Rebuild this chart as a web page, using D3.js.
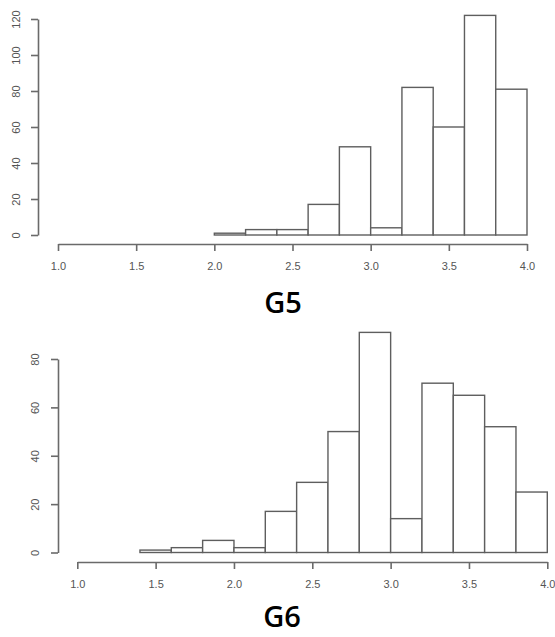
<!DOCTYPE html>
<html>
<head>
<meta charset="utf-8">
<script src="https://cdn.jsdelivr.net/npm/d3@7"></script>
<style>
  body { margin: 0; background: #fff; }
  svg text { font-family: "Liberation Sans", Arial, sans-serif; }
</style>
</head>
<body>
<div id="chart"></div>
<script>
// histogram data, bins 0.2 wide
var binWidth = 0.2
var g5Start = 2.0
var g5Counts = [1, 3, 3, 17, 49, 4, 82, 60, 122, 81]
var g6Start = 1.4
var g6Counts = [1, 2, 5, 2, 17, 29, 50, 91, 14, 70, 65, 52, 25]

var xTicks = [1.0, 1.5, 2.0, 2.5, 3.0, 3.5, 4.0]
var g5YTicks = [0, 20, 40, 60, 80, 100, 120]
var g6YTicks = [0, 20, 40, 60, 80]

var titles = ["G5", "G6"]

var width = 555, height = 637
var svg = d3.select("#chart").append("svg")
    .attr("width", width)
    .attr("height", height)

var axisColor = "#6a6a6a"
var barColor = "#5e5e5e"

function draw_hist(cfg) {
    var x = d3.scaleLinear().domain([1, 4]).range([cfg.x0, cfg.x1])
    var y = d3.scaleLinear().domain([0, d3.max(cfg.yTicks)]).range([cfg.yBase, cfg.yTop])

    var bins = cfg.counts.map(function (c, i) {
        var lo = cfg.start + i * binWidth
        return { lo: lo, hi: lo + binWidth, n: c }
    })

    var g = svg.append("g")

    g.selectAll("rect.bar")
        .data(bins)
        .enter().append("rect")
        .attr("class", "bar")
        .attr("x", function (d) { return x(d.lo) })
        .attr("width", function (d) { return x(d.hi) - x(d.lo) })
        .attr("y", function (d) { return y(d.n) })
        .attr("height", function (d) { return y(0) - y(d.n) })
        .attr("fill", "#fff")
        .attr("stroke", barColor)
        .attr("stroke-width", 1.4)

    // x axis, R style: sits a bit below the bars
    var xa = g.append("g")
        .attr("transform", "translate(0," + cfg.xAxisY + ")")
        .call(d3.axisBottom(x).tickValues(xTicks).tickFormat(d3.format(".1f"))
            .tickSize(7).tickSizeOuter(0).tickPadding(11))
    xa.select(".domain").attr("stroke", axisColor).attr("stroke-width", 1.6)
    xa.selectAll(".tick line").attr("stroke", axisColor).attr("stroke-width", 1.6)
    xa.selectAll("text").attr("fill", "#555").style("font-size", "11px")

    // y axis with rotated labels
    var ya = g.append("g")
        .attr("transform", "translate(" + cfg.yAxisX + ",0)")
        .call(d3.axisLeft(y).tickValues(cfg.yTicks).tickSize(7).tickSizeOuter(0))
    ya.select(".domain").attr("stroke", axisColor).attr("stroke-width", 1.6)
    ya.selectAll(".tick line").attr("stroke", axisColor).attr("stroke-width", 1.6)
    ya.selectAll("text")
        .attr("fill", "#555")
        .style("font-size", "11px")
        .attr("text-anchor", "middle")
        .attr("transform", "rotate(-90)")
        .attr("x", 0)
        .attr("y", -cfg.labelOff)
        .attr("dy", "0.35em")

    svg.append("text")
        .attr("x", cfg.titleX)
        .attr("y", cfg.titleY)
        .attr("text-anchor", "middle")
        .style("font-family", "'Open Sans', 'Noto Sans', sans-serif")
        .style("font-size", "29px")
        .style("font-weight", 600)
        .attr("fill", "#000")
        .text(cfg.title)
}

draw_hist({
    counts: g5Counts, start: g5Start, yTicks: g5YTicks,
    x0: 58, x1: 527, yBase: 235, yTop: 19,
    xAxisY: 244, yAxisX: 38, labelOff: 22,
    title: titles[0], titleX: 283, titleY: 313
})

draw_hist({
    counts: g6Counts, start: g6Start, yTicks: g6YTicks,
    x0: 77.3, x1: 547.3, yBase: 552.5, yTop: 359,
    xAxisY: 562, yAxisX: 58, labelOff: 23,
    title: titles[1], titleX: 282, titleY: 627
})
</script>
</body>
</html>
